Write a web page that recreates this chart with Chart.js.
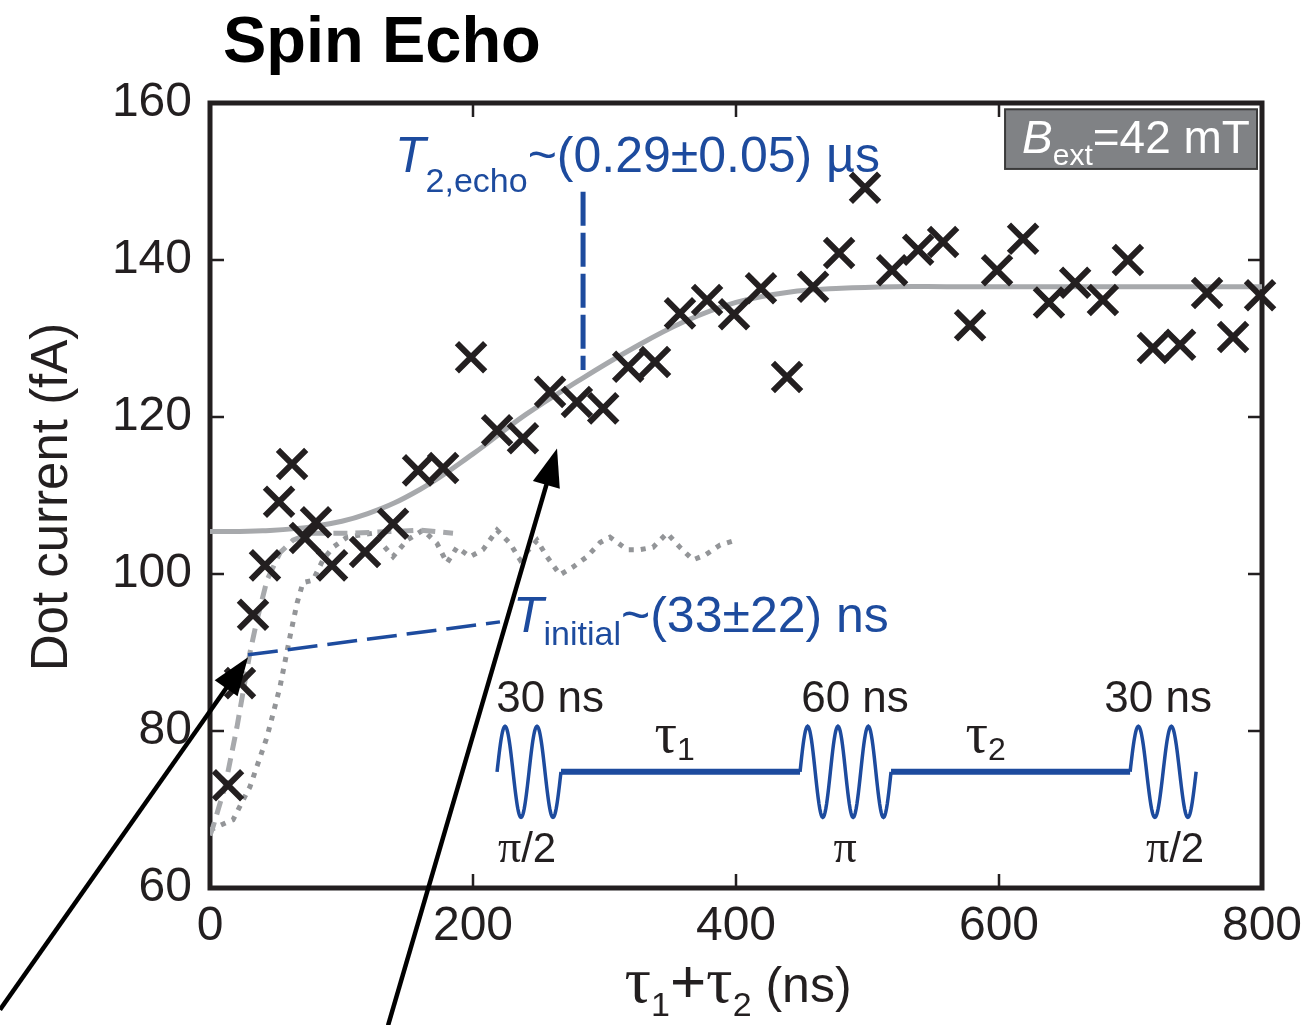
<!DOCTYPE html>
<html>
<head>
<meta charset="utf-8">
<script src="https://cdn.jsdelivr.net/npm/chart.js@4.4.1/dist/chart.umd.min.js"></script>
<style>
  html, body { margin: 0; padding: 0; background: #fff; }
  #wrap { width: 1304px; height: 1025px; }
</style>
</head>
<body>
<div id="wrap"><canvas id="chart" width="1304" height="1025"></canvas></div>
<script>
// measured points (tau1 + tau2 in ns, dot current in fA)
const timeNs = [13.7, 22.8, 32.7, 41.8, 52.5, 62.4, 72.2, 80.6, 92.8, 117.9, 139.2, 158.2, 177.3,
  198.5, 218.3, 238, 258.6, 279, 299, 318, 338.4, 357.4, 378, 398.5, 419, 438.8, 458.6, 478.4,
  498.1, 518.7, 538.5, 557.5, 578, 598.5, 618.3, 638, 657.9, 679, 698, 717, 737.7, 758.2, 778, 798.5];
const currentFa = [73.1, 86.1, 94.8, 101.1, 109.2, 114.0, 104.6, 106.6, 101.1, 102.8, 106.4, 113.2, 113.5,
  127.6, 118.3, 117.3, 123.2, 121.9, 121.1, 126.4, 127.0, 133.2, 134.9, 133.1, 136.4, 125.1, 136.6, 140.9,
  149.2, 138.7, 141.3, 142.3, 131.7, 138.7, 142.7, 134.6, 137.1, 134.9, 140.0, 128.8, 129.2, 135.8, 130.2, 135.5];

// fitted curve (solid grey)
const fitX = [0, 40, 80, 120, 160, 200, 240, 280, 320, 360, 400, 440, 480, 520, 560, 600, 640, 680, 720, 760, 800];
const fitY = [105.4, 105.5, 106.1, 107.7, 110.8, 115.3, 120.3, 124.6, 128.6, 132.1, 134.6, 135.9, 136.4,
  136.6, 136.6, 136.6, 136.6, 136.6, 136.6, 136.6, 136.6];

// simulations (dashed and dotted grey)
const dashX = [0, 2.3, 11.4, 20.5, 30.4, 35.7, 43.3, 53.2, 63.1, 76.0, 106.5, 136.9, 159.7, 184.8];
const dashY = [66.7, 67.8, 72.9, 80.5, 90.0, 94.1, 99.2, 102.7, 104.3, 105.2, 105.2, 105.4, 105.6, 105.2];
const dotX = [0, 17.5, 30.4, 43.3, 53.2, 60.8, 66.2, 70.7, 78.3, 85.9, 93.5, 104.2, 124.0, 139.2, 149.8,
  162.0, 172.6, 180.2, 187.8, 197.7, 207.6, 218.3, 228.2, 235.8, 248.7, 256.3, 266.2, 276.1, 286.7,
  296.6, 304.2, 317.1, 327.0, 336.9, 347.6, 357.4, 367.3, 376.4, 387.9, 399.3];
const dotY = [67.4, 68.7, 72.9, 79.2, 85.6, 92.0, 96.3, 98.9, 99.2, 101.8, 103.4, 104.7, 105.2, 102.2, 104.3,
  105.6, 103.9, 101.4, 103.4, 102.2, 103.1, 105.6, 103.9, 101.8, 104.3, 102.2, 99.9, 100.9, 102.2,
  104.0, 104.7, 103.1, 103.1, 103.4, 105.2, 103.4, 101.8, 102.4, 103.7, 104.3];

const xTicks = [0, 200, 400, 600, 800];
const yTicks = [60, 80, 100, 120, 140, 160];

const SANS = '"Liberation Sans", Arial, Helvetica, sans-serif';
const SERIF = '"Liberation Serif", "Times New Roman", serif';
const BLUE = '#1d4b9e';
const INK = '#231f20';
const GREY = '#a7a9ac';

const pts = (xs, ys) => xs.map((x, i) => ({ x: x, y: ys[i] }));

// draw a row of text pieces (for sub/superscripts)
function runs(ctx, x, y, parts, align) {
  let w = 0;
  parts.forEach(p => { ctx.font = p.f; w += ctx.measureText(p.t).width; });
  let cx = align === 'center' ? x - w / 2 : x;
  ctx.textAlign = 'left';
  ctx.textBaseline = 'alphabetic';
  parts.forEach(p => {
    ctx.font = p.f;
    ctx.fillText(p.t, cx, y + (p.dy || 0));
    cx += ctx.measureText(p.t).width;
  });
}

function arrow(ctx, x0, y0, x1, y1) {
  const a = Math.atan2(y1 - y0, x1 - x0);
  const len = 38, half = 14;
  ctx.beginPath();
  ctx.moveTo(x0, y0);
  ctx.lineTo(x1 - Math.cos(a) * (len - 4), y1 - Math.sin(a) * (len - 4));
  ctx.lineWidth = 4.5;
  ctx.strokeStyle = '#000';
  ctx.stroke();
  ctx.beginPath();
  ctx.moveTo(x1, y1);
  ctx.lineTo(x1 - Math.cos(a) * len - Math.sin(a) * half, y1 - Math.sin(a) * len + Math.cos(a) * half);
  ctx.lineTo(x1 - Math.cos(a) * len + Math.sin(a) * half, y1 - Math.sin(a) * len - Math.cos(a) * half);
  ctx.closePath();
  ctx.fillStyle = '#000';
  ctx.fill();
}

const frame = {
  id: 'frame',
  beforeDatasetsDraw(chart) {
    const { ctx, chartArea: a, scales } = chart;
    ctx.save();
    ctx.strokeStyle = INK;
    ctx.lineWidth = 2.5;
    xTicks.slice(1, -1).forEach(v => {
      const x = scales.x.getPixelForValue(v);
      ctx.beginPath();
      ctx.moveTo(x, a.bottom); ctx.lineTo(x, a.bottom - 14);
      ctx.moveTo(x, a.top); ctx.lineTo(x, a.top + 14);
      ctx.stroke();
    });
    yTicks.slice(1, -1).forEach(v => {
      const y = scales.y.getPixelForValue(v);
      ctx.beginPath();
      ctx.moveTo(a.left, y); ctx.lineTo(a.left + 14, y);
      ctx.moveTo(a.right, y); ctx.lineTo(a.right - 14, y);
      ctx.stroke();
    });
    ctx.lineWidth = 5;
    ctx.strokeRect(a.left, a.top, a.right - a.left, a.bottom - a.top);
    ctx.restore();
  }
};

const notes = {
  id: 'notes',
  afterDatasetsDraw(chart) {
    const { ctx, scales } = chart;
    const X = v => scales.x.getPixelForValue(v);
    const Y = v => scales.y.getPixelForValue(v);
    ctx.save();

    // title and axis titles
    ctx.fillStyle = '#000';
    ctx.font = 'bold 65px ' + SANS;
    ctx.textAlign = 'left';
    ctx.textBaseline = 'alphabetic';
    ctx.fillText('Spin Echo', 223, 62);

    ctx.fillStyle = INK;
    ctx.save();
    ctx.translate(67, 497);
    ctx.rotate(-Math.PI / 2);
    ctx.font = '51px ' + SANS;
    ctx.textAlign = 'center';
    ctx.fillText('Dot current (fA)', 0, 0);
    ctx.restore();

    runs(ctx, 738, 1002, [
      { t: '\u03c4', f: '66px ' + SERIF },
      { t: '1', f: '34px ' + SANS, dy: 14 },
      { t: '+', f: '62px ' + SANS },
      { t: '\u03c4', f: '66px ' + SERIF },
      { t: '2', f: '34px ' + SANS, dy: 14 },
      { t: ' (ns)', f: '50px ' + SANS }
    ], 'center');

    // B_ext box
    const bx0 = X(604.6), bx1 = X(796.2), by0 = Y(159.2), by1 = Y(151.6);
    ctx.fillStyle = '#808285';
    ctx.fillRect(bx0, by0, bx1 - bx0, by1 - by0);
    ctx.strokeStyle = '#3a3a3a';
    ctx.lineWidth = 2;
    ctx.strokeRect(bx0, by0, bx1 - bx0, by1 - by0);
    ctx.fillStyle = '#fff';
    runs(ctx, X(617.5), Y(153.6), [
      { t: 'B', f: 'italic 46px ' + SANS },
      { t: 'ext', f: '30px ' + SANS, dy: 12 },
      { t: '=42 mT', f: '46px ' + SANS }
    ]);

    // T2,echo marker and label
    ctx.strokeStyle = BLUE;
    ctx.lineWidth = 5;
    ctx.setLineDash([34, 7]);
    ctx.beginPath();
    ctx.moveTo(X(283.7), Y(148.7));
    ctx.lineTo(X(283.7), Y(126.0));
    ctx.stroke();
    ctx.fillStyle = BLUE;
    runs(ctx, X(140.7), Y(151.2), [
      { t: 'T', f: 'italic 50px ' + SANS },
      { t: '2,echo', f: '34px ' + SANS, dy: 20 },
      { t: '~(0.29\u00b10.05) \u00b5s', f: '50px ' + SANS }
    ]);

    // T_initial marker and label
    ctx.lineWidth = 3.5;
    ctx.setLineDash([30, 10]);
    ctx.beginPath();
    ctx.moveTo(X(28.9), Y(89.7));
    ctx.lineTo(X(220.5), Y(93.9));
    ctx.stroke();
    ctx.setLineDash([]);
    runs(ctx, X(230.4), Y(92.6), [
      { t: 'T', f: 'italic 50px ' + SANS },
      { t: 'initial', f: '34px ' + SANS, dy: 13 },
      { t: '~(33\u00b122) ns', f: '50px ' + SANS }
    ]);

    // pulse sequence inset
    const base = 74.8, amp = 5.8;
    const pulses = [[218.3, 266.9, 2], [448.7, 517.9, 3], [699.7, 749.9, 2]];
    ctx.strokeStyle = BLUE;
    ctx.lineWidth = 3.5;
    pulses.forEach(p => {
      ctx.beginPath();
      for (let i = 0; i <= 120; i++) {
        const u = i / 120;
        const px = X(p[0] + (p[1] - p[0]) * u);
        const py = Y(base + amp * Math.sin(2 * Math.PI * p[2] * u));
        if (i === 0) ctx.moveTo(px, py); else ctx.lineTo(px, py);
      }
      ctx.stroke();
    });
    ctx.lineWidth = 6;
    ctx.beginPath();
    ctx.moveTo(X(266.9), Y(base)); ctx.lineTo(X(448.7), Y(base));
    ctx.moveTo(X(517.9), Y(base)); ctx.lineTo(X(699.7), Y(base));
    ctx.stroke();

    ctx.fillStyle = INK;
    ctx.font = '44px ' + SANS;
    ctx.textAlign = 'center';
    ctx.fillText('30 ns', X(258.6), Y(82.4));
    ctx.fillText('60 ns', X(490.5), Y(82.4));
    ctx.fillText('30 ns', X(721.0), Y(82.4));
    runs(ctx, X(338), Y(77.3), [
      { t: '\u03c4', f: '56px ' + SERIF },
      { t: '1', f: '32px ' + SANS, dy: 8 }
    ]);
    runs(ctx, X(574.5), Y(77.3), [
      { t: '\u03c4', f: '56px ' + SERIF },
      { t: '2', f: '32px ' + SANS, dy: 8 }
    ]);
    const pi2 = [{ t: '\u03c0', f: '46px ' + SERIF }, { t: '/2', f: '42px ' + SANS }];
    runs(ctx, X(241.1), Y(63.3), pi2, 'center');
    runs(ctx, X(482.9), Y(63.3), [{ t: '\u03c0', f: '46px ' + SERIF }], 'center');
    runs(ctx, X(733.9), Y(63.3), pi2, 'center');

    // arrows
    arrow(ctx, X(-159.7), Y(44.5), X(28.9), Y(89.4));
    arrow(ctx, X(135.4), Y(42.5), X(263.9), Y(116.0));
    ctx.restore();
  }
};

new Chart(document.getElementById('chart'), {
  type: 'scatter',
  data: {
    datasets: [
      {
        label: 'data',
        data: pts(timeNs, currentFa),
        pointStyle: 'crossRot',
        pointRadius: 20,
        pointBorderWidth: 6,
        borderColor: INK,
        backgroundColor: INK,
        clip: false,
        order: 0
      },
      {
        label: 'fit',
        data: pts(fitX, fitY),
        showLine: true,
        pointRadius: 0,
        borderColor: GREY,
        borderWidth: 5,
        tension: 0.4,
        order: 1
      },
      {
        label: 'dashed',
        data: pts(dashX, dashY),
        showLine: true,
        pointRadius: 0,
        borderColor: GREY,
        borderWidth: 5,
        borderDash: [14, 8],
        order: 2
      },
      {
        label: 'dotted',
        data: pts(dotX, dotY),
        showLine: true,
        pointRadius: 0,
        borderColor: '#939598',
        borderWidth: 5,
        borderDash: [5, 7],
        order: 3
      }
    ]
  },
  options: {
    responsive: false,
    animation: false,
    events: [],
    layout: { padding: { top: 103, right: 42, left: 0, bottom: 0 } },
    plugins: { legend: { display: false }, tooltip: { enabled: false } },
    scales: {
      x: {
        type: 'linear',
        min: 0, max: 800,
        afterFit: s => { s.height = 137; s.paddingLeft = 0; s.paddingRight = 0; },
        afterBuildTicks: s => { s.ticks = xTicks.map(v => ({ value: v })); },
        grid: { display: false, drawTicks: false },
        border: { display: false },
        ticks: { padding: 10, color: INK, font: { family: SANS, size: 48 }, maxRotation: 0 }
      },
      y: {
        type: 'linear',
        min: 60, max: 160,
        afterFit: s => { s.width = 210; s.paddingTop = 0; s.paddingBottom = 0; },
        afterBuildTicks: s => { s.ticks = yTicks.map(v => ({ value: v })); },
        grid: { display: false, drawTicks: false },
        border: { display: false },
        ticks: { padding: 18, color: INK, font: { family: SANS, size: 48 } }
      }
    }
  },
  plugins: [frame, notes]
});
</script>
</body>
</html>
